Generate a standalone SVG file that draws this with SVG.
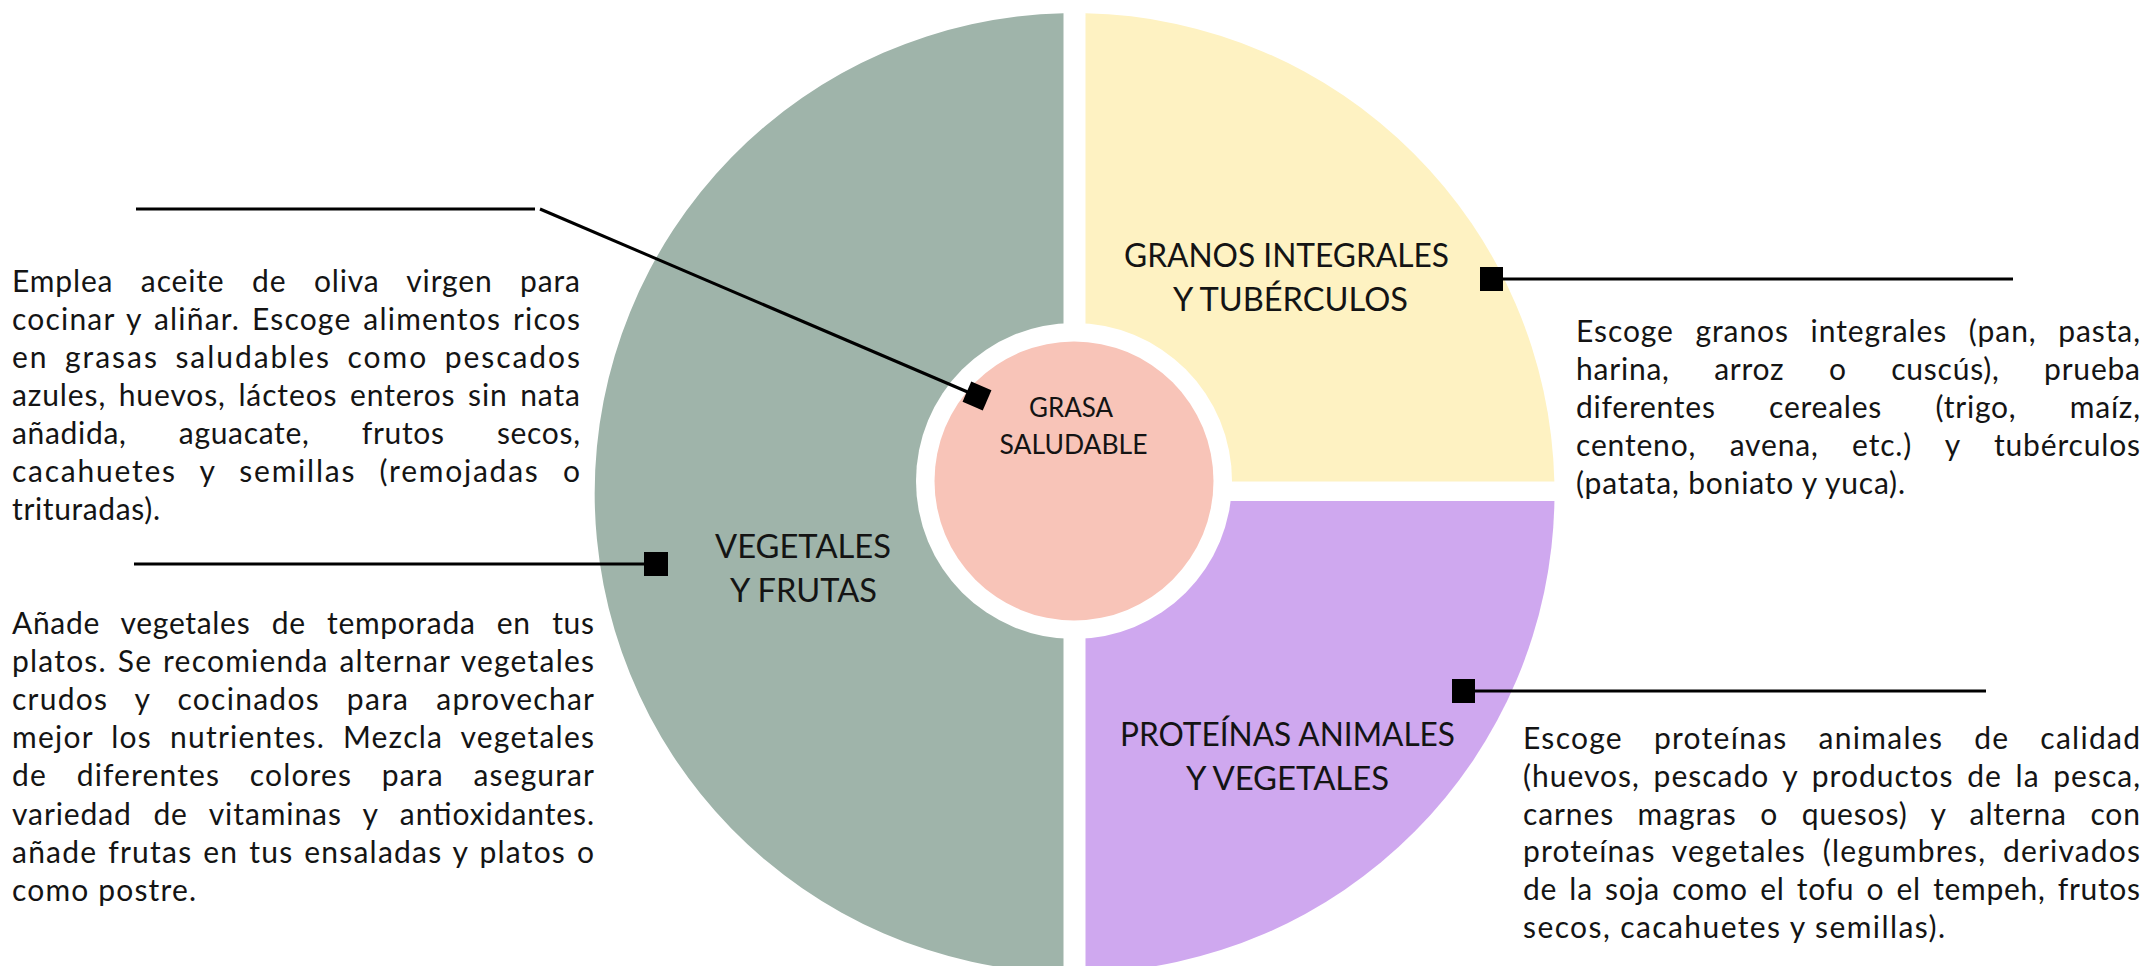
<svg xmlns="http://www.w3.org/2000/svg" width="2152" height="966" viewBox="0 0 2152 966">
<style>
.t{font-family:Lato,"Liberation Sans",sans-serif;font-size:30px;font-weight:400;fill:#141414}
.lb{font-family:Lato,"Liberation Sans",sans-serif;font-size:32px;font-weight:400;fill:#141414;text-anchor:middle}
.sm{font-family:Lato,"Liberation Sans",sans-serif;font-size:26px;font-weight:400;fill:#141414;text-anchor:middle}
.ln{stroke:#000;stroke-width:3;fill:none}
.sq{fill:#000}
</style>
<rect x="0" y="0" width="2152" height="966" fill="#fff"/>
<g id="vegetales">
<path d="M1063.5,13.13 A480,480 0 0 0 1063.5,972.87 Z" fill="#9fb4aa"/>
<text class="lb" x="803" y="558" textLength="176" lengthAdjust="spacingAndGlyphs">VEGETALES</text>
<text class="lb" x="803.5" y="602" textLength="147" lengthAdjust="spacingAndGlyphs">Y FRUTAS</text>
</g>
<g id="granos">
<path d="M1085.5,13.13 A480,480 0 0 1 1554.36,481.5 L1085.5,481.5 Z" fill="#fef2c2"/>
<text class="lb" x="1286.5" y="267" textLength="325" lengthAdjust="spacingAndGlyphs">GRANOS INTEGRALES</text>
<text class="lb" x="1290.5" y="311" textLength="235" lengthAdjust="spacingAndGlyphs">Y TUBÉRCULOS</text>
</g>
<g id="proteinas">
<path d="M1554.43,501 A480,480 0 0 1 1085.5,972.87 L1085.5,501 Z" fill="#cfa8ef"/>
<text class="lb" x="1287.5" y="746" textLength="335" lengthAdjust="spacingAndGlyphs">PROTEÍNAS ANIMALES</text>
<text class="lb" x="1287.5" y="790" textLength="203" lengthAdjust="spacingAndGlyphs">Y VEGETALES</text>
</g>
<g id="grasa">
<circle cx="1074" cy="481" r="158" fill="#fff"/>
<circle cx="1074" cy="481" r="139.5" fill="#f8c4b8"/>
<text class="sm" x="1071" y="417" textLength="84" lengthAdjust="spacingAndGlyphs">GRASA</text>
<text class="sm" x="1073.5" y="454" textLength="148" lengthAdjust="spacingAndGlyphs">SALUDABLE</text>
</g>
<g id="connectors">
<line class="ln" x1="136" y1="209" x2="535" y2="209"/>
<line class="ln" x1="540" y1="209" x2="977" y2="396"/>
<rect class="sq" x="966" y="385" width="22" height="22" transform="rotate(23.3 977 396)"/>
<line class="ln" x1="134" y1="564" x2="656" y2="564"/>
<rect class="sq" x="644" y="552" width="24" height="24"/>
<line class="ln" x1="1491" y1="279" x2="2013" y2="279"/>
<rect class="sq" x="1480" y="267" width="23" height="24"/>
<line class="ln" x1="1464" y1="691" x2="1986" y2="691"/>
<rect class="sq" x="1452" y="679" width="23" height="24"/>
</g>
<g id="texto-grasa">
<text class="t" x="12" y="292" textLength="568" lengthAdjust="spacing" word-spacing="19">Emplea aceite de oliva virgen para</text>
<text class="t" x="12" y="330" textLength="568" lengthAdjust="spacing" word-spacing="3">cocinar y aliñar. Escoge alimentos ricos</text>
<text class="t" x="12" y="368" textLength="568" lengthAdjust="spacing" word-spacing="7">en grasas saludables como pescados</text>
<text class="t" x="12" y="406" textLength="568" lengthAdjust="spacing" word-spacing="4">azules, huevos, lácteos enteros sin nata</text>
<text class="t" x="12" y="444" textLength="568" lengthAdjust="spacing" word-spacing="44">añadida, aguacate, frutos secos,</text>
<text class="t" x="12" y="482" textLength="568" lengthAdjust="spacing" word-spacing="14">cacahuetes y semillas (remojadas o</text>
<text class="t" x="12" y="520" textLength="148" lengthAdjust="spacing">trituradas).</text>
</g>
<g id="texto-vegetales">
<text class="t" x="12" y="634" textLength="582" lengthAdjust="spacing" word-spacing="13">Añade vegetales de temporada en tus</text>
<text class="t" x="12" y="672" textLength="582" lengthAdjust="spacing" word-spacing="2">platos. Se recomienda alternar vegetales</text>
<text class="t" x="12" y="710" textLength="582" lengthAdjust="spacing" word-spacing="18">crudos y cocinados para aprovechar</text>
<text class="t" x="12" y="748" textLength="582" lengthAdjust="spacing" word-spacing="9">mejor los nutrientes. Mezcla vegetales</text>
<text class="t" x="12" y="786" textLength="582" lengthAdjust="spacing" word-spacing="21">de diferentes colores para asegurar</text>
<text class="t" x="12" y="825" textLength="582" lengthAdjust="spacing" word-spacing="13">variedad de vitaminas y antioxidantes.</text>
<text class="t" x="12" y="863" textLength="582" lengthAdjust="spacing" word-spacing="2">añade frutas en tus ensaladas y platos o</text>
<text class="t" x="12" y="901" textLength="184" lengthAdjust="spacing">como postre.</text>
</g>
<g id="texto-granos">
<text class="t" x="1576" y="342" textLength="564" lengthAdjust="spacing" word-spacing="13">Escoge granos integrales (pan, pasta,</text>
<text class="t" x="1576" y="380" textLength="564" lengthAdjust="spacing" word-spacing="36">harina, arroz o cuscús), prueba</text>
<text class="t" x="1576" y="418" textLength="564" lengthAdjust="spacing" word-spacing="45">diferentes cereales (trigo, maíz,</text>
<text class="t" x="1576" y="456" textLength="564" lengthAdjust="spacing" word-spacing="25">centeno, avena, etc.) y tubérculos</text>
<text class="t" x="1576" y="494" textLength="329" lengthAdjust="spacing">(patata, boniato y yuca).</text>
</g>
<g id="texto-proteinas">
<text class="t" x="1523" y="749" textLength="617" lengthAdjust="spacing" word-spacing="22">Escoge proteínas animales de calidad</text>
<text class="t" x="1523" y="787" textLength="617" lengthAdjust="spacing" word-spacing="5">(huevos, pescado y productos de la pesca,</text>
<text class="t" x="1523" y="825" textLength="617" lengthAdjust="spacing" word-spacing="15">carnes magras o quesos) y alterna con</text>
<text class="t" x="1523" y="862" textLength="617" lengthAdjust="spacing" word-spacing="8">proteínas vegetales (legumbres, derivados</text>
<text class="t" x="1523" y="900" textLength="617" lengthAdjust="spacing" word-spacing="4">de la soja como el tofu o el tempeh, frutos</text>
<text class="t" x="1523" y="938" textLength="422" lengthAdjust="spacing">secos, cacahuetes y semillas).</text>
</g>
</svg>
